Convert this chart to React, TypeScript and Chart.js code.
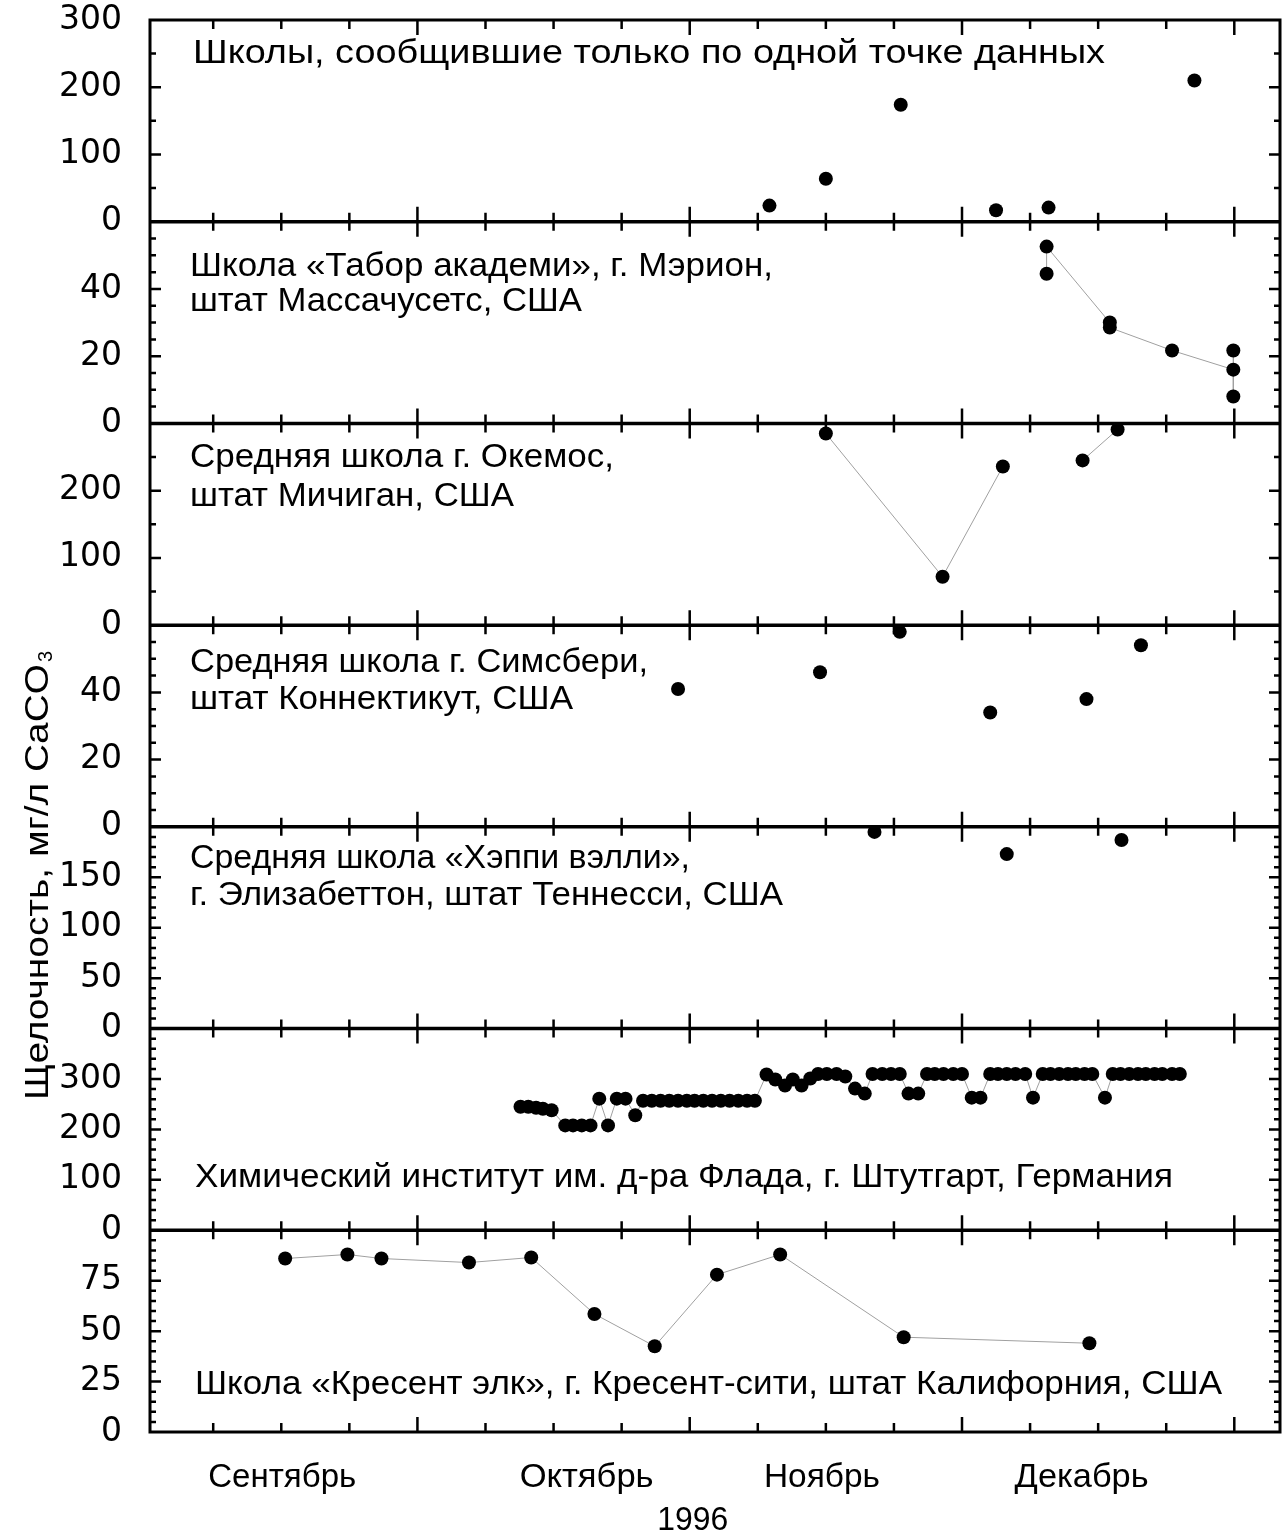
import React, { useEffect, useRef } from 'react';
import { Chart, registerables } from 'chart.js';

Chart.register(...registerables);

// ---------- data (x = days on the 1996 time axis) ----------
const xTickDays = [7, 14, 21, 28, 35, 42, 49, 56, 63, 70, 77, 84, 91, 98, 105, 112];
const majorTickDays = [28, 56, 84, 112];
const xMin = 0.5;
const xMax = 116.7;

const monthLabels = ['Сентябрь', 'Октябрь', 'Ноябрь', 'Декабрь'];
const monthDays = [14.1, 45.4, 69.6, 96.3];
const yearLabel = '1996';
const yearDay = 56.3;

const yAxisTitle = 'Щелочность, мг/л CaCO';
const yAxisTitleSub = '3';

const panelIds = ['p1', 'p2', 'p3', 'p4', 'p5', 'p6', 'p7'];
const panelMax = [300, 60, 300, 60, 200, 400, 100];
const panelShowMaxLabel = [true, false, false, false, false, false, false];
const panelLabelStep = [100, 20, 100, 20, 50, 100, 25];
const panelMinorStep = [50, 5, 50, 5, 10, 20, 5];
const panelTitles = [
  ['Школы, сообщившие только по одной точке данных'],
  ['Школа «Табор академи», г. Мэрион,', 'штат Массачусетс, США'],
  ['Средняя школа г. Окемос,', 'штат Мичиган, США'],
  ['Средняя школа г. Симсбери,', 'штат Коннектикут, США'],
  ['Средняя школа «Хэппи вэлли»,', 'г. Элизабеттон, штат Теннесси, США'],
  ['Химический институт им. д-ра Флада, г. Штутгарт, Германия'],
  ['Школа «Кресент элк», г. Кресент-сити, штат Калифорния, США'],
];

// Panel 1: schools with a single data point
const singleX = [64.2, 70.0, 77.7, 87.5, 92.9, 107.9];
const singleY = [24, 64, 174, 17, 21, 210];

// Panel 2: Tabor Academy
const taborX = [92.7, 92.7, 99.2, 99.2, 105.6, 111.9, 111.9, 111.9];
const taborY = [44.5, 52.6, 30, 28.5, 21.7, 16, 21.7, 8];

// Panel 3: Okemos
const okemosX = [70.0, 82.0, 88.2, 92.3, 96.4, 100.0];
const okemosY = [285, 72, 236, null, 245, 291];

// Panel 4: Simsbury
const simsburyX = [54.8, 69.4, 77.6, 86.9, 96.8, 102.4];
const simsburyY = [41, 46, 58, 34, 38, 54];

// Panel 5: Happy Valley
const happyX = [75.0, 88.6, 100.4];
const happyY = [195, 173, 187];

// Panel 6: Stuttgart
const stuttgartX = [
  38.6, 39.4, 40.2, 40.9, 41.8,
  43.2, 44.0, 44.9, 45.8,
  46.7, 47.6, 48.5, 49.4, 50.4,
  51.2, 52.1, 53.0, 53.9, 54.8, 55.7, 56.5, 57.4, 58.3, 59.2, 60.1, 61.0, 61.9, 62.7,
  63.9, 64.8, 65.8, 66.6, 67.5, 68.4, 69.2, 70.1, 71.1, 72.0, 73.0, 74.0,
  74.8, 75.8, 76.7, 77.6,
  78.5, 79.5,
  80.4, 81.2, 82.1, 83.1, 84.0,
  85.0, 85.9,
  86.9, 87.7, 88.6, 89.5, 90.5,
  91.3,
  92.3, 93.1, 94.0, 94.9, 95.7, 96.6, 97.4,
  98.7,
  99.5, 100.3, 101.2, 102.1, 102.9, 103.8, 104.6, 105.6, 106.4,
];
const stuttgartY = [
  245, 245, 243, 241, 238,
  208, 208, 208, 208,
  261, 208, 261, 261, 228,
  257, 257, 257, 257, 257, 257, 257, 257, 257, 257, 257, 257, 257, 257,
  309, 299, 287, 299, 287, 301, 310, 310, 310, 305, 281, 271,
  310, 310, 310, 310,
  271, 271,
  310, 310, 310, 310, 310,
  263, 263,
  310, 310, 310, 310, 310,
  263,
  310, 310, 310, 310, 310, 310, 310,
  263,
  310, 310, 310, 310, 310, 310, 310, 310, 310,
];

// Panel 7: Crescent Elk
const crescentX = [14.4, 20.8, 24.3, 33.3, 39.7, 46.2, 52.4, 58.8, 65.3, 78.0, 97.1];
const crescentY = [86, 88, 86, 84, 86.5, 58.5, 42.5, 78, 88, 47, 44];

const seriesX = [singleX, taborX, okemosX, simsburyX, happyX, stuttgartX, crescentX];
const seriesY: (number | null)[][] = [singleY, taborY, okemosY, simsburyY, happyY, stuttgartY, crescentY];
const seriesShowLine = [false, true, true, false, false, true, true];

// ---------- styling / layout (not data) ----------
const TEXT_FONT = '"Liberation Sans", Arial, "DejaVu Sans", sans-serif';
const TICK_FONT = '"DejaVu Sans", sans-serif';
// [dx from chart left, dy from panel top (baseline), target width] per line
const titleLayout = [
  [[43, 43, 912]],
  [[40, 54, 583], [40, 89, 392]],
  [[40, 44, 424], [40, 83, 324]],
  [[40, 47, 458], [40, 84, 383]],
  [[40, 41, 500], [40, 78, 593]],
  [[45, 158, 978]],
  [[45, 164, 1027]],
];
const monthWidths = [148, 134, 116, 134];

function fitText(ctx: CanvasRenderingContext2D, text: string, x: number, y: number, targetW: number) {
  const w = ctx.measureText(text).width;
  const sx = w > 0 ? targetW / w : 1;
  ctx.save();
  ctx.translate(x, y);
  ctx.scale(sx, 1);
  ctx.fillText(text, 0, 0);
  ctx.restore();
}

const decorPlugin = {
  id: 'decor',
  beforeDatasetsDraw(chart: any) {
    const ctx: CanvasRenderingContext2D = chart.ctx;
    const xs = chart.scales.x;
    const { left, right, top, bottom } = chart.chartArea;
    ctx.save();
    ctx.strokeStyle = '#000';
    ctx.fillStyle = '#000';
    ctx.lineCap = 'butt';

    panelIds.forEach((id, i) => {
      const s = chart.scales[id];
      // y ticks (inward, both sides)
      ctx.lineWidth = 2.5;
      const step = panelMinorStep[i];
      for (let v = step; v < panelMax[i]; v += step) {
        const y = s.getPixelForValue(v);
        const major = Math.abs(v % panelLabelStep[i]) < 1e-9;
        const len = major ? 11 : 6;
        ctx.beginPath();
        ctx.moveTo(left, y);
        ctx.lineTo(left + len, y);
        ctx.moveTo(right, y);
        ctx.lineTo(right - len, y);
        ctx.stroke();
      }
      // x ticks at top and bottom of each panel (inward)
      xTickDays.forEach((d) => {
        const x = xs.getPixelForValue(d);
        const major = majorTickDays.includes(d);
        const len = major ? 15 : 9;
        ctx.beginPath();
        ctx.moveTo(x, s.top);
        ctx.lineTo(x, s.top + len);
        ctx.moveTo(x, s.bottom);
        ctx.lineTo(x, s.bottom - len);
        ctx.stroke();
      });
      // separators
      if (i < panelIds.length - 1) {
        ctx.lineWidth = 3.5;
        ctx.beginPath();
        ctx.moveTo(left, s.bottom);
        ctx.lineTo(right, s.bottom);
        ctx.stroke();
      }
      // panel titles
      ctx.font = `33px ${TEXT_FONT}`;
      ctx.textAlign = 'left';
      ctx.textBaseline = 'alphabetic';
      panelTitles[i].forEach((line, j) => {
        const [dx, dy, w] = titleLayout[i][j];
        fitText(ctx, line, left + dx, s.top + dy, w);
      });
    });

    // outer frame
    ctx.lineWidth = 3;
    ctx.strokeRect(left, top, right - left, bottom - top);

    // month labels
    ctx.font = `33px ${TEXT_FONT}`;
    ctx.textAlign = 'left';
    monthLabels.forEach((m, i) => {
      const cx = xs.getPixelForValue(monthDays[i]);
      fitText(ctx, m, cx - monthWidths[i] / 2, bottom + 55, monthWidths[i]);
    });
    const yx = xs.getPixelForValue(yearDay);
    fitText(ctx, yearLabel, yx - 35.5, bottom + 98, 71);

    // y axis title (rotated)
    ctx.save();
    ctx.translate(48, top + 1080);
    ctx.rotate(-Math.PI / 2);
    ctx.font = `33px ${TEXT_FONT}`;
    const mainW = 436;
    fitText(ctx, yAxisTitle, 0, 0, mainW);
    ctx.font = `20px ${TEXT_FONT}`;
    ctx.fillText(yAxisTitleSub, mainW + 2, 4);
    ctx.restore();

    ctx.restore();
  },
};

function buildConfig(): any {
  const datasets = panelIds.map((id, i) => ({
    label: panelTitles[i][0],
    data: seriesX[i].map((x, k) => ({ x, y: seriesY[i][k] })),
    xAxisID: 'x',
    yAxisID: id,
    showLine: seriesShowLine[i],
    borderColor: '#a0a0a0',
    borderWidth: 1,
    tension: 0,
    spanGaps: false,
    pointRadius: 7,
    pointBackgroundColor: '#000',
    pointBorderColor: '#000',
    pointBorderWidth: 0,
    pointHoverRadius: 7,
    fill: false,
  }));

  const scales: any = {
    x: {
      type: 'linear',
      display: false,
      min: xMin,
      max: xMax,
    },
  };
  panelIds.forEach((id, i) => {
    const max = panelMax[i];
    const showMax = panelShowMaxLabel[i];
    scales[id] = {
      type: 'linear',
      position: 'left',
      stack: 'panels',
      stackWeight: 1,
      weight: panelIds.length - i,
      min: 0,
      max,
      grid: { display: false, drawTicks: false },
      border: { display: false },
      ticks: {
        stepSize: panelLabelStep[i],
        autoSkip: false,
        padding: 28,
        color: '#000',
        font: { family: TICK_FONT, size: 33 },
        callback: (v: number) => (v === max && !showMax ? '' : String(v)),
      },
      afterFit: (s: any) => {
        s.width = 150;
        s.paddingTop = 0;
        s.paddingBottom = 0;
      },
    };
  });

  return {
    type: 'line',
    data: { datasets },
    options: {
      animation: false,
      responsive: false,
      events: [],
      layout: { padding: { left: 0, right: 8, top: 20, bottom: 102 } },
      plugins: {
        legend: { display: false },
        tooltip: { enabled: false },
        title: { display: false },
      },
      scales,
    },
    plugins: [decorPlugin],
  };
}

export default function App() {
  const ref = useRef<HTMLCanvasElement>(null);
  useEffect(() => {
    document.body.style.margin = '0';
    const chart = new Chart(ref.current as HTMLCanvasElement, buildConfig());
    return () => chart.destroy();
  }, []);
  return (
    <div style={{ width: 1288, height: 1534, background: '#fff' }}>
      <canvas ref={ref} width={1288} height={1534} style={{ display: 'block' }} />
    </div>
  );
}
